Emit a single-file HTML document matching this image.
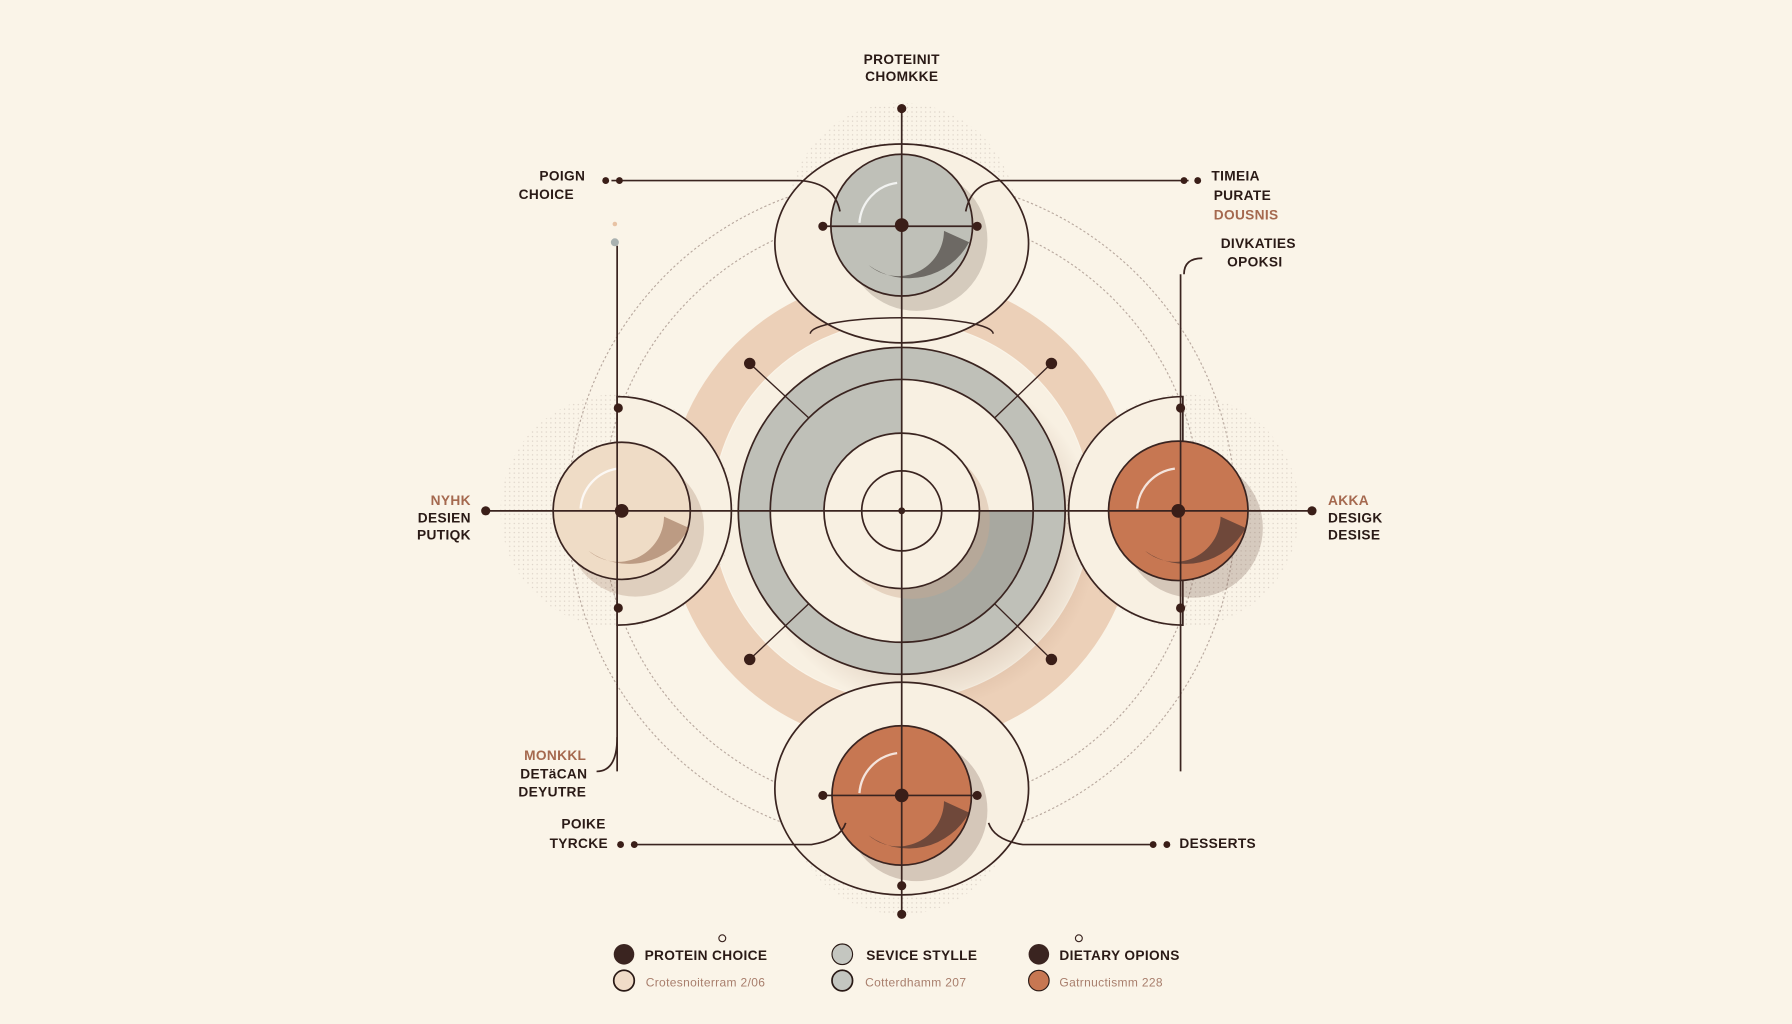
<!DOCTYPE html>
<html><head><meta charset="utf-8"><style>
html,body{margin:0;padding:0;background:#faf4e8;}
svg{display:block}
text{font-family:"Liberation Sans",sans-serif;font-weight:bold;font-size:12px;fill:#2a1a16;letter-spacing:0.3px}
.o{fill:#a5694f}
.l{font-weight:normal;font-size:10.5px;fill:#a87e6c}
</style></head><body>
<svg width="1792" height="1024" viewBox="0 0 1568 896" xmlns="http://www.w3.org/2000/svg">
<defs>
<pattern id="dots" width="4" height="4" patternUnits="userSpaceOnUse"><circle cx="2" cy="2" r="0.6" fill="#c4b8ae"/></pattern>
<radialGradient id="sh" cx="0.5" cy="0.5" r="0.5"><stop offset="0.6" stop-color="#8a5a40" stop-opacity="0.3"/><stop offset="1" stop-color="#8a5a40" stop-opacity="0"/></radialGradient>
</defs>
<rect width="1568" height="896" fill="#faf4e8"/>
<circle cx="789" cy="447" r="292" fill="none" stroke="#b9a99f" stroke-width="1" stroke-dasharray="2 2"/>
<circle cx="789" cy="447" r="262" fill="none" stroke="#b9a99f" stroke-width="1" stroke-dasharray="2 2"/>
<circle cx="789" cy="447" r="186" fill="none" stroke="#ecd0b8" stroke-width="40"/>
<circle cx="789" cy="447" r="165" fill="#f8f0e2"/>
<circle cx="789" cy="190" r="100" fill="url(#dots)" opacity="0.6"/>
<circle cx="540" cy="447" r="102" fill="url(#dots)" opacity="0.6"/>
<circle cx="1035" cy="447" r="102" fill="url(#dots)" opacity="0.6"/>
<circle cx="789" cy="700" r="100" fill="url(#dots)" opacity="0.6"/>
<circle cx="810" cy="470" r="150" fill="url(#sh)"/>
<circle cx="789" cy="447" r="143" fill="#bfc0b8" stroke="#3a2420" stroke-width="1.5"/>
<path d="M789 447 L904 447 A115 115 0 0 0 789 332 Z" fill="#f8f0e2"/>
<path d="M789 447 L674 447 A115 115 0 0 0 789 562 Z" fill="#f8f0e2"/>
<path d="M789 447 L904 447 A115 115 0 0 1 789 562 Z" fill="#a8a8a0"/>
<path d="M789 447 L674 447 A115 115 0 0 1 789 332 Z" fill="#bfc0b8"/>
<circle cx="789" cy="447" r="115" fill="none" stroke="#3a2420" stroke-width="1.5"/>
<circle cx="798" cy="456" r="68" fill="#caa88e" opacity="0.4"/>
<circle cx="789" cy="447" r="68" fill="#f8f0e2" stroke="#3a2420" stroke-width="1.5"/>
<circle cx="789" cy="447" r="35" fill="#f8f0e2" stroke="#3a2420" stroke-width="1.5"/>
<circle cx="789" cy="447" r="3" fill="#3a1e18"/>
<g stroke="#3a2420" stroke-width="1.2">
<line x1="656" y1="318" x2="708" y2="366"/><line x1="920" y1="318" x2="870" y2="366"/>
<line x1="656" y1="577" x2="708" y2="528"/><line x1="920" y1="577" x2="870" y2="528"/>
</g>
<g fill="#3a1e18"><circle cx="656" cy="318" r="5"/><circle cx="920" cy="318" r="5"/><circle cx="656" cy="577" r="5"/><circle cx="920" cy="577" r="5"/></g>
<!-- top node -->
<ellipse cx="789" cy="213" rx="111" ry="87" fill="#f8f0e2" stroke="#3a2420" stroke-width="1.5"/>
<path d="M709 292 A80 14 0 0 1 869 292" fill="none" stroke="#3a2420" stroke-width="1.3"/>
<circle cx="802" cy="210" r="62" fill="#6a5a50" opacity="0.25"/>
<circle cx="789" cy="197" r="62" fill="#bfc0b8" stroke="#3a2420" stroke-width="1.5"/>
<path d="M826 202 A40 40 0 0 1 760 232 A60 60 0 0 0 848 212 Z" fill="#4a4540" opacity="0.7"/>
<!-- bottom node -->
<ellipse cx="789" cy="690" rx="111" ry="93" fill="#f8f0e2" stroke="#3a2420" stroke-width="1.5"/>
<circle cx="802" cy="709" r="62" fill="#6a4a40" opacity="0.25"/>
<circle cx="789" cy="696" r="61" fill="#c77752" stroke="#3a2420" stroke-width="1.5"/>
<path d="M826 701 A40 40 0 0 1 760 731 A60 60 0 0 0 848 711 Z" fill="#4a3430" opacity="0.7"/>
<!-- left node -->
<path d="M540 347 A100 100 0 0 1 540 547 Z" fill="#f8f0e2" stroke="#3a2420" stroke-width="1.5"/>
<circle cx="556" cy="462" r="60" fill="#8a5a40" opacity="0.22"/>
<circle cx="544" cy="447" r="60" fill="#efdcc6" stroke="#3a2420" stroke-width="1.5"/>
<path d="M581 452 A40 40 0 0 1 515 482 A60 60 0 0 0 603 462 Z" fill="#8a5a40" opacity="0.5"/>
<!-- right node -->
<path d="M1035 347 A100 100 0 0 0 1035 547 Z" fill="#f8f0e2" stroke="#3a2420" stroke-width="1.5"/>
<circle cx="1044" cy="462" r="61" fill="#6a4a40" opacity="0.25"/>
<circle cx="1031" cy="447" r="61" fill="#c77752" stroke="#3a2420" stroke-width="1.5"/>
<path d="M1068 452 A40 40 0 0 1 1002 482 A60 60 0 0 0 1090 462 Z" fill="#4a3430" opacity="0.7"/>
<g fill="none" stroke="#fff" stroke-width="2" opacity="0.8">
<path d="M752 195 A38 38 0 0 1 785 160"/><path d="M508 445 A38 38 0 0 1 540 410"/>
<path d="M995 445 A38 38 0 0 1 1028 410"/><path d="M752 694 A38 38 0 0 1 785 659"/>
</g>
<g stroke="#3a2420" stroke-width="1.5" fill="none">
<line x1="425" y1="447" x2="1148" y2="447"/>
<line x1="789" y1="95" x2="789" y2="800"/>
<line x1="540" y1="215" x2="540" y2="675"/>
<line x1="1033" y1="240" x2="1033" y2="675"/>
<path d="M1052 226 Q1036 226 1036 240"/>
<path d="M540 645 Q540 675 522 675"/>
<path d="M535 158 L700 158 Q730 160 735 185"/>
<path d="M1040 158 L875 158 Q850 160 845 185"/>
<line x1="720" y1="198" x2="855" y2="198"/>
<line x1="720" y1="696" x2="855" y2="696"/>
<path d="M555 739 L710 739 Q735 735 740 720"/>
<path d="M1010 739 L895 739 Q870 735 865 720"/>
</g>
<g fill="#3a1e18">
<circle cx="789" cy="95" r="4"/><circle cx="789" cy="197" r="6"/><circle cx="789" cy="775" r="4"/><circle cx="789" cy="800" r="4"/>
<circle cx="789" cy="696" r="6"/><circle cx="544" cy="447" r="6"/><circle cx="1031" cy="447" r="6"/>
<circle cx="425" cy="447" r="4"/><circle cx="1148" cy="447" r="4"/>
<circle cx="720" cy="198" r="4"/><circle cx="855" cy="198" r="4"/><circle cx="720" cy="696" r="4"/><circle cx="855" cy="696" r="4"/>
<circle cx="530" cy="158" r="3"/><circle cx="542" cy="158" r="3"/><circle cx="1036" cy="158" r="3"/><circle cx="1048" cy="158" r="3"/>
<circle cx="543" cy="739" r="3"/><circle cx="555" cy="739" r="3"/><circle cx="1009" cy="739" r="3"/><circle cx="1021" cy="739" r="3"/>
<circle cx="541" cy="357" r="4"/><circle cx="541" cy="532" r="4"/><circle cx="1033" cy="357" r="4"/><circle cx="1033" cy="532" r="4"/>
</g>
<circle cx="538" cy="212" r="3.5" fill="#a9b1b0"/><circle cx="538" cy="196" r="2" fill="#e8c3a5"/>
<text x="789" y="56" text-anchor="middle">PROTEINIT</text>
<text x="789" y="71" text-anchor="middle">CHOMKKE</text>
<text x="492" y="158" text-anchor="middle">POIGN</text>
<text x="478" y="174" text-anchor="middle">CHOICE</text>
<text x="1060" y="158">TIMEIA</text>
<text x="1062" y="175">PURATE</text>
<text x="1062" y="192" class="o">DOUSNIS</text>
<text x="1101" y="217" text-anchor="middle">DIVKATIES</text>
<text x="1098" y="233" text-anchor="middle">OPOKSI</text>
<text x="412" y="442" text-anchor="end" class="o">NYHK</text>
<text x="412" y="457" text-anchor="end">DESIEN</text>
<text x="412" y="472" text-anchor="end">PUTIQK</text>
<text x="1162" y="442" class="o">AKKA</text>
<text x="1162" y="457">DESIGK</text>
<text x="1162" y="472">DESISE</text>
<text x="513" y="665" text-anchor="end" class="o">MONKKL</text>
<text x="514" y="681" text-anchor="end">DETäCAN</text>
<text x="513" y="697" text-anchor="end">DEYUTRE</text>
<text x="530" y="725" text-anchor="end">POIKE</text>
<text x="532" y="742" text-anchor="end">TYRCKE</text>
<text x="1032" y="742">DESSERTS</text>
<circle cx="546" cy="835" r="9" fill="#3a2420"/>
<circle cx="546" cy="858" r="9" fill="#f0dcc8" stroke="#2a1a16" stroke-width="1.5"/>
<circle cx="737" cy="835" r="9" fill="#c4c6c0" stroke="#2a1a16" stroke-width="1"/>
<circle cx="737" cy="858" r="9" fill="#c4c6c0" stroke="#2a1a16" stroke-width="1.5"/>
<circle cx="909" cy="835" r="9" fill="#3a2420"/>
<circle cx="909" cy="858" r="9" fill="#c77752" stroke="#2a1a16" stroke-width="1"/>
<circle cx="632" cy="821" r="3" fill="none" stroke="#3a2420"/>
<circle cx="944" cy="821" r="3" fill="none" stroke="#3a2420"/>
<text x="564" y="840">PROTEIN CHOICE</text>
<text x="758" y="840">SEVICE STYLLE</text>
<text x="927" y="840">DIETARY OPIONS</text>
<text x="565" y="863" class="l">Crotesnoiterram 2/06</text>
<text x="757" y="863" class="l">Cotterdhamm 207</text>
<text x="927" y="863" class="l">Gatrnuctismm 228</text>
</svg>
</body></html>
